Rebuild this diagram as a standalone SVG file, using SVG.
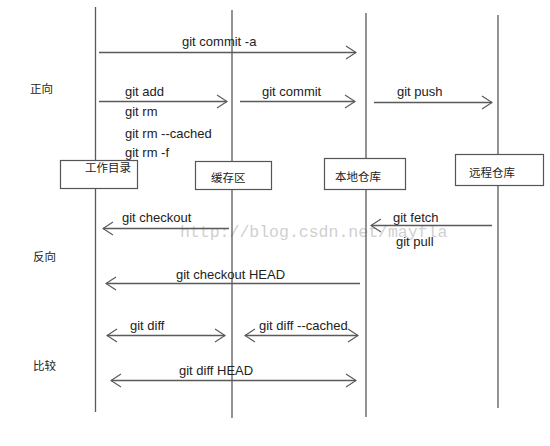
<svg xmlns="http://www.w3.org/2000/svg" width="550" height="446" viewBox="0 0 550 446">
<style>
.ln{stroke:#5a5a5a;stroke-width:1.3;fill:none}
.ar{stroke:#5a5a5a;stroke-width:1.3;fill:none}
.t{font-family:"Liberation Sans",Arial,sans-serif;font-size:13px;fill:#222}
.c{font-family:"Noto Sans CJK SC","Liberation Sans",sans-serif;font-size:11.5px;fill:#222}
.box{fill:#fff;stroke:#555;stroke-width:1.2}
.wm{font-family:"Liberation Mono","Liberation Serif",monospace;font-size:16.5px;fill:#d0d0d0}
</style>
<defs>
<marker id="ah" markerWidth="12" markerHeight="16" refX="11" refY="8" orient="auto-start-reverse" markerUnits="userSpaceOnUse">
<path d="M1,1.5 L11,8 L1,14.5" fill="none" stroke="#5a5a5a" stroke-width="1.2"/>
</marker>
</defs>
<rect width="550" height="446" fill="#fff"/>
<text class="wm" x="180" y="237">http://blog.csdn.net/mayfla</text>
<g id="lifelines">
<line class="ln" x1="95.5" y1="7" x2="95.5" y2="412"/>
<line class="ln" x1="232" y1="10" x2="232" y2="418"/>
<line class="ln" x1="366" y1="13" x2="366" y2="417"/>
<line class="ln" x1="498" y1="15" x2="498" y2="408"/>
</g>
<g id="node-workdir"><rect class="box" x="60.5" y="160.5" width="77" height="28"/><text class="c" x="85" y="172">工作目录</text></g>
<g id="node-index"><rect class="box" x="195.5" y="161.5" width="76" height="28"/><text class="c" x="211" y="182">缓存区</text></g>
<g id="node-local"><rect class="box" x="324.5" y="158.5" width="81" height="31"/><text class="c" x="335" y="181">本地仓库</text></g>
<g id="node-remote"><rect class="box" x="455.5" y="154.5" width="88" height="31"/><text class="c" x="469" y="177">远程仓库</text></g>
<g id="labels">
<text class="c" x="30" y="93">正向</text>
<text class="c" x="33" y="261">反向</text>
<text class="c" x="33" y="370">比较</text>
</g>
<g id="connectors">
<line class="ar" x1="99" y1="52.5" x2="356" y2="52.5" marker-end="url(#ah)"/>
<line class="ar" x1="99" y1="101.5" x2="227" y2="101.5" marker-end="url(#ah)"/>
<line class="ar" x1="240" y1="101.5" x2="355" y2="101.5" marker-end="url(#ah)"/>
<line class="ar" x1="374" y1="102.5" x2="492" y2="102.5" marker-end="url(#ah)"/>
<line class="ar" x1="229" y1="228.5" x2="103" y2="228.5" marker-end="url(#ah)"/>
<line class="ar" x1="492" y1="225.5" x2="371" y2="225.5" marker-end="url(#ah)"/>
<line class="ar" x1="360" y1="283.5" x2="106" y2="283.5" marker-end="url(#ah)"/>
<line class="ar" x1="107" y1="335.5" x2="225" y2="335.5" marker-start="url(#ah)" marker-end="url(#ah)"/>
<line class="ar" x1="245" y1="335.5" x2="358" y2="335.5" marker-start="url(#ah)" marker-end="url(#ah)"/>
<line class="ar" x1="111" y1="380.5" x2="356" y2="380.5" marker-start="url(#ah)" marker-end="url(#ah)"/>
</g>
<g id="connector-labels">
<text class="t" x="182" y="46">git commit -a</text>
<text class="t" x="125" y="96">git add</text>
<text class="t" x="125" y="116">git rm</text>
<text class="t" x="125" y="138">git rm --cached</text>
<text class="t" x="125" y="157">git rm -f</text>
<text class="t" x="262" y="96">git commit</text>
<text class="t" x="397" y="96">git push</text>
<text class="t" x="122" y="222">git checkout</text>
<text class="t" x="393" y="222">git fetch</text>
<text class="t" x="396" y="246">git pull</text>
<text class="t" x="176" y="279">git checkout HEAD</text>
<text class="t" x="130" y="330">git diff</text>
<text class="t" x="259" y="330">git diff --cached</text>
<text class="t" x="179" y="375">git diff HEAD</text>
</g>
</svg>
